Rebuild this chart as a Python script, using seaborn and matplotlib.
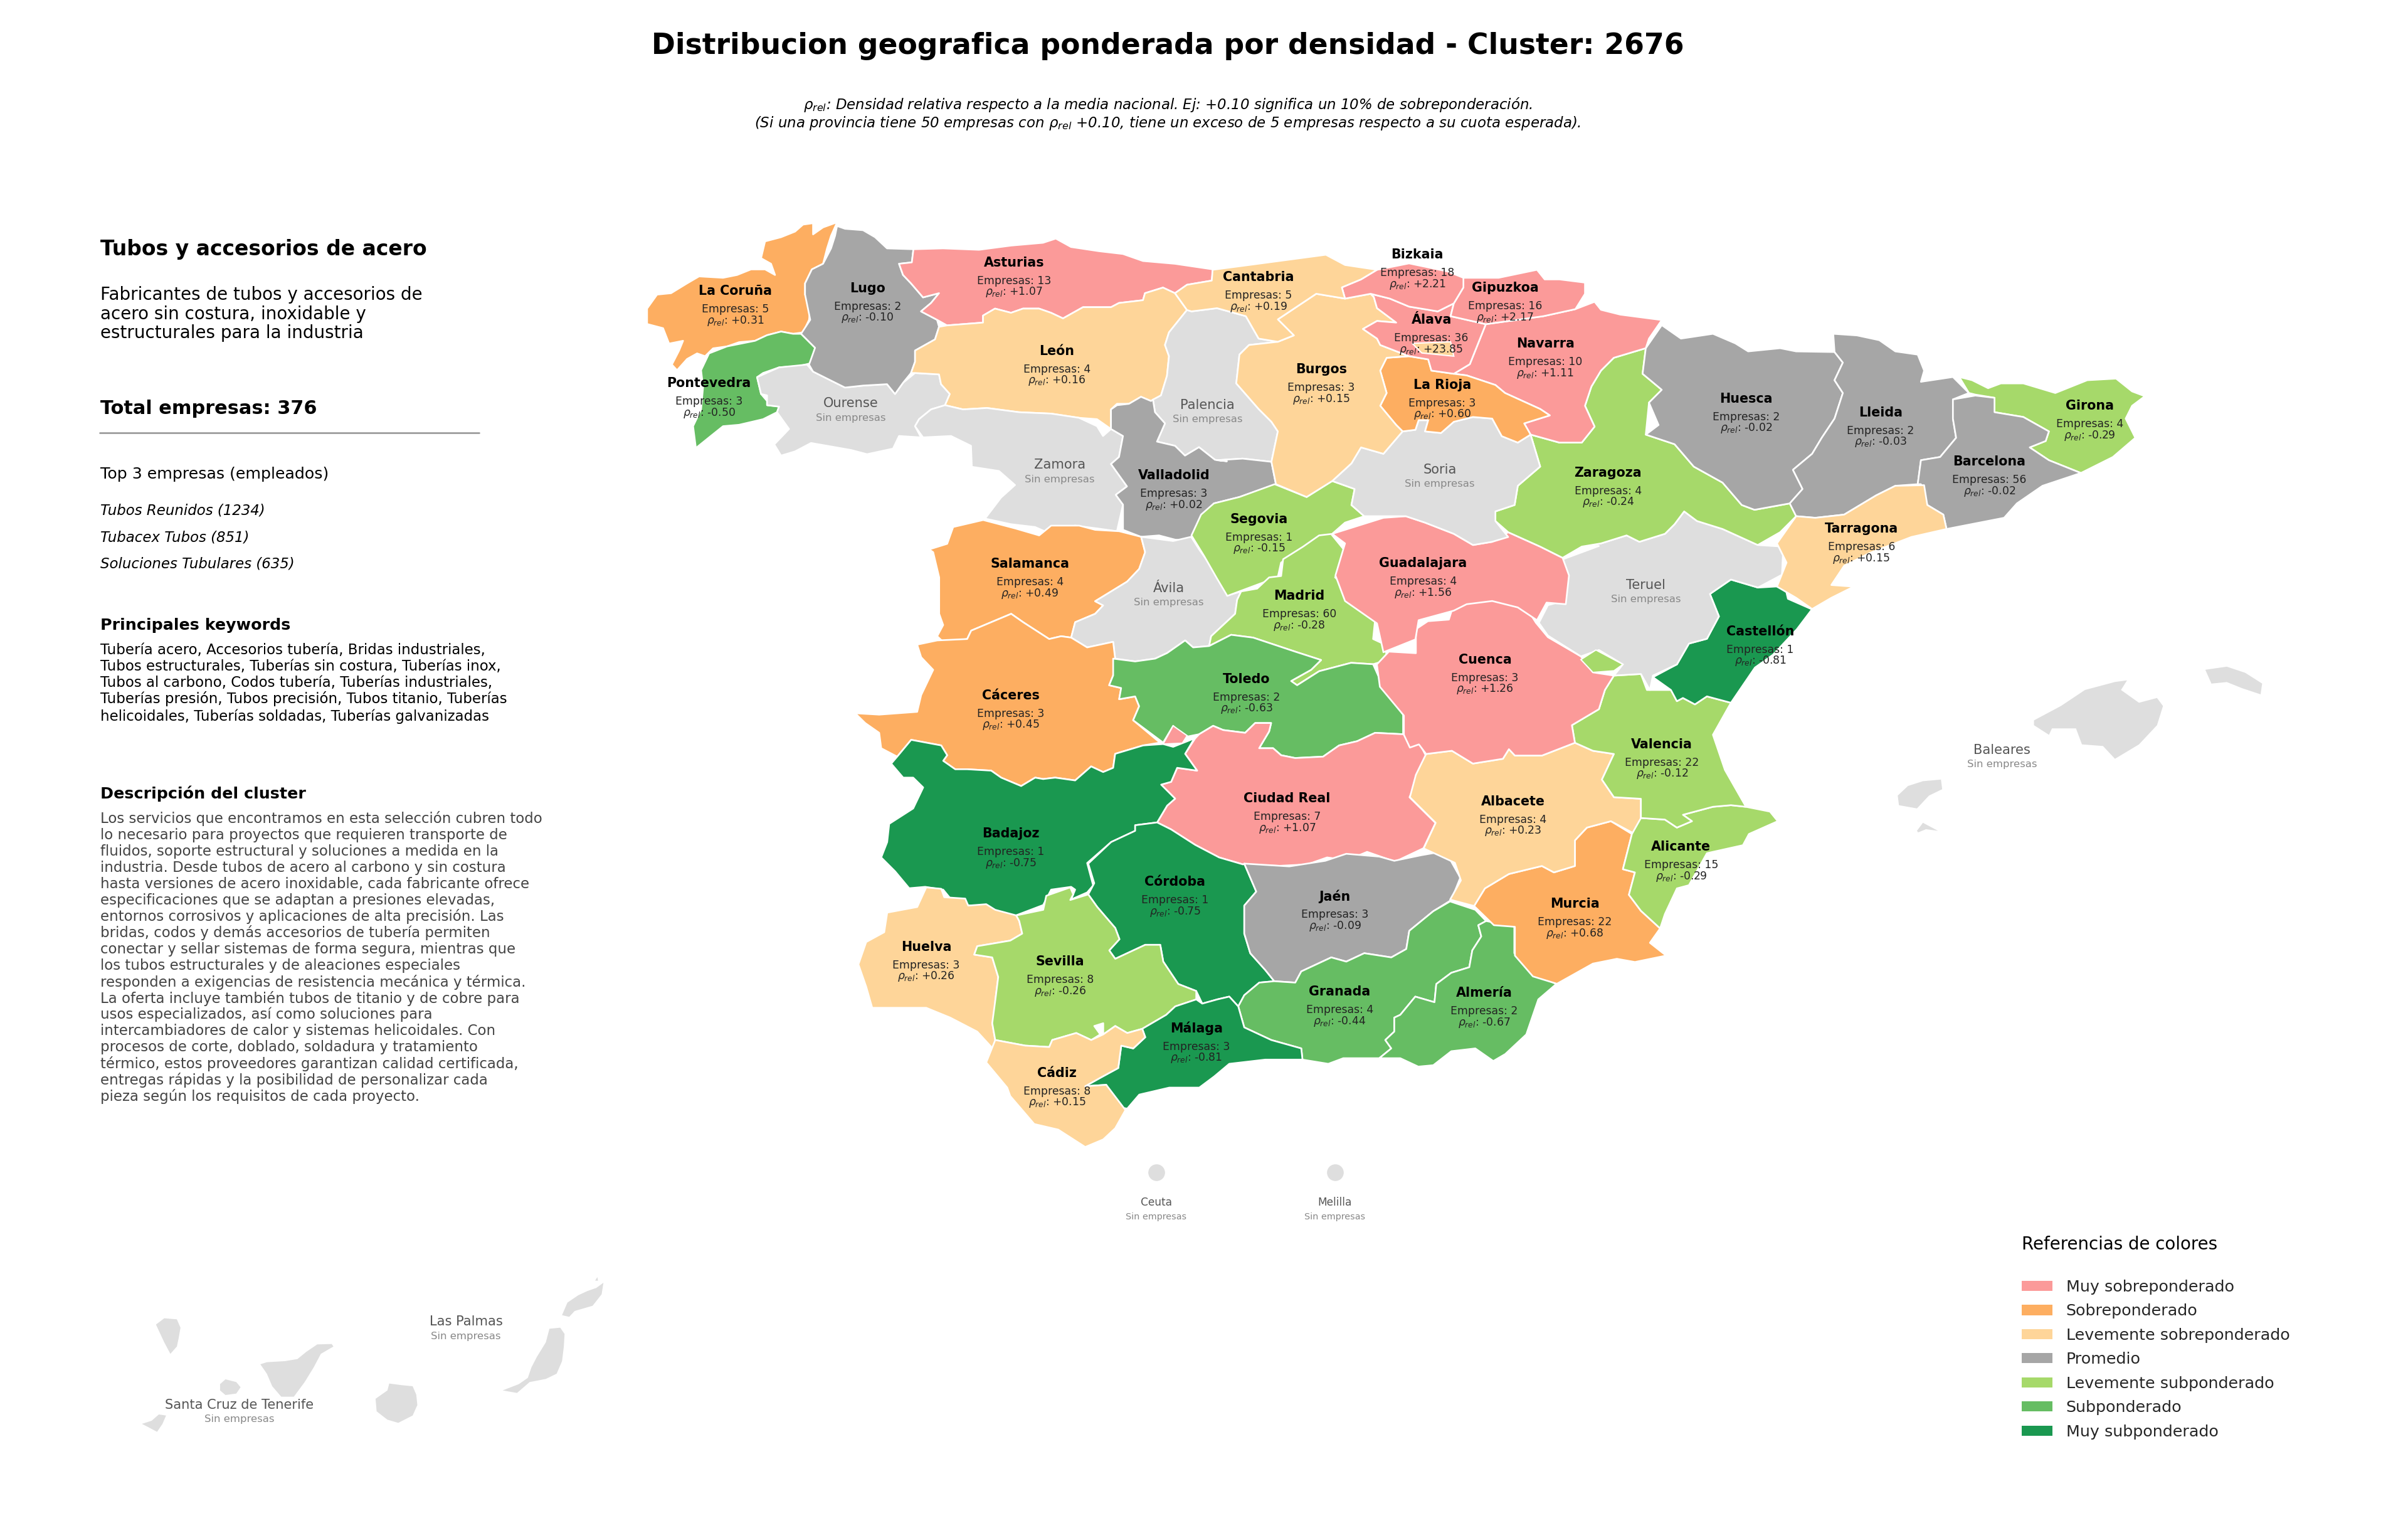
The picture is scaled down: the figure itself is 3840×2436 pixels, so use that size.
import matplotlib
matplotlib.use("Agg")
import matplotlib.pyplot as plt
from matplotlib.patches import Polygon, Patch
import pandas as pd
import seaborn as sns

W, H = 3840, 2436
DPI = 240

# ---------- data ----------
PROVINCES = ["La Coruña","Lugo","Asturias","León","Pontevedra","Valladolid","Salamanca","Segovia","Madrid","Cáceres","Toledo",
             "Badajoz","Ciudad Real","Córdoba","Jaén","Huelva","Sevilla","Cádiz","Málaga","Granada","Almería","Murcia","Alicante",
             "Albacete","Valencia","Cuenca","Guadalajara","Castellón","Tarragona","Barcelona","Girona","Lleida","Huesca","Zaragoza",
             "Navarra","La Rioja","Burgos","Álava","Gipuzkoa","Bizkaia","Cantabria"]
EMPRESAS = [5,2,13,4,3,3,4,1,60,3,2,1,7,1,3,3,8,8,3,4,2,22,15,4,22,3,4,1,6,56,4,2,2,4,10,3,3,36,16,18,5]
RHO = [0.31,-0.10,1.07,0.16,-0.50,0.02,0.49,-0.15,-0.28,0.45,-0.63,-0.75,1.07,-0.75,-0.09,0.26,-0.26,0.15,-0.81,-0.44,-0.67,0.68,-0.29,
       0.23,-0.12,1.26,1.56,-0.81,0.15,-0.02,-0.29,-0.03,-0.02,-0.24,1.11,0.60,0.15,23.85,2.17,2.21,0.19]
EMPTY_PROVINCES = ["Ourense","Zamora","Palencia","Ávila","Soria","Teruel","Baleares","Ceuta","Melilla","Las Palmas","Santa Cruz de Tenerife"]

CATEGORIES = ["Muy sobreponderado","Sobreponderado","Levemente sobreponderado","Promedio","Levemente subponderado","Subponderado","Muy subponderado"]
COLORS = ["#fb9a99","#fdae61","#fed599","#a6a6a6","#a6d96a","#66bd63","#1a9850"]
EMPTY_COLOR = "#dedede"
BIN_EDGES = [-1000,-0.7,-0.35,-0.11,0.10,0.30,0.75,1000]

TITLE = "Distribucion geografica ponderada por densidad - Cluster: 2676"
NOTE_1 = r"$\rho_{rel}$: Densidad relativa respecto a la media nacional. Ej: +0.10 significa un 10% de sobreponderación."
NOTE_2 = r"(Si una provincia tiene 50 empresas con $\rho_{rel}$ +0.10, tiene un exceso de 5 empresas respecto a su cuota esperada)."
HEAD = "Tubos y accesorios de acero"
SUBHEAD = ["Fabricantes de tubos y accesorios de","acero sin costura, inoxidable y","estructurales para la industria"]
TOTAL = "Total empresas: 376"
TOP_TITLE = "Top 3 empresas (empleados)"
TOP_COMPANIES = ["Tubos Reunidos (1234)","Tubacex Tubos (851)","Soluciones Tubulares (635)"]
KW_TITLE = "Principales keywords"
KEYWORDS = ["Tubería acero, Accesorios tubería, Bridas industriales,","Tubos estructurales, Tuberías sin costura, Tuberías inox,",
            "Tubos al carbono, Codos tubería, Tuberías industriales,","Tuberías presión, Tubos precisión, Tubos titanio, Tuberías",
            "helicoidales, Tuberías soldadas, Tuberías galvanizadas"]
DESC_TITLE = "Descripción del cluster"
DESCRIPTION = ["Los servicios que encontramos en esta selección cubren todo","lo necesario para proyectos que requieren transporte de",
 "fluidos, soporte estructural y soluciones a medida en la","industria. Desde tubos de acero al carbono y sin costura",
 "hasta versiones de acero inoxidable, cada fabricante ofrece","especificaciones que se adaptan a presiones elevadas,",
 "entornos corrosivos y aplicaciones de alta precisión. Las","bridas, codos y demás accesorios de tubería permiten",
 "conectar y sellar sistemas de forma segura, mientras que","los tubos estructurales y de aleaciones especiales",
 "responden a exigencias de resistencia mecánica y térmica.","La oferta incluye también tubos de titanio y de cobre para",
 "usos especializados, así como soluciones para","intercambiadores de calor y sistemas helicoidales. Con",
 "procesos de corte, doblado, soldadura y tratamiento","térmico, estos proveedores garantizan calidad certificada,",
 "entregas rápidas y la posibilidad de personalizar cada","pieza según los requisitos de cada proyecto."]
LEGEND_TITLE = "Referencias de colores"

# map survey frames: origin x, origin y, x scale, y scale
FRAMES = {"A":(1000,300,1.568,2.24),"B":(1900,300,0.98,1.96),"C":(1300,800,1.568,2.24),"D":(2100,850,1.045,1.96),
          "E":(1300,1350,1.045,2.24),"F":(150,2000,1.742,3.0),"O":(0,0,1/2.449,1/2.449)}

OUTLINES = {
"La Coruña":[("A",[(525,122),(510,170),(500,215),(490,270),(462,290),(445,340),(445,380),(458,430),(455,470),(440,515),(415,520),(385,512),(350,525),(320,545),(280,550),(250,565),(215,572),(195,600),(175,590),(150,610),(125,650),(112,630),(130,580),(140,545),(105,555),(90,500),(50,485),(50,430),(75,380),(110,375),(150,340),(180,315),(240,320),(275,310),(310,290),(345,290),(370,310),(360,270),(335,250),(345,190),(385,175),(420,155),(440,130),(465,125),(465,165),(490,140)])],
"Pontevedra":[("A",[(435,520),(470,570),(460,625),(430,635),(380,640),(340,660),(325,675),(335,735),(350,760),(350,775),(380,780),(375,800),(340,825),(280,845),(240,850),(205,890),(172,928),(165,850),(185,790),(190,710),(185,650),(205,590),(250,565),(320,545),(350,525),(385,512),(415,520)])],
"Ourense":[("A",[(325,675),(380,640),(450,630),(465,655),(500,680),(545,712),(590,705),(650,700),(670,735),(690,695),(720,660),(780,665),(785,700),(807,735),(795,775),(760,790),(730,825),(720,850),(735,890),(680,885),(665,930),(600,950),(560,935),(500,920),(460,910),(420,940),(385,955),(368,915),(405,860),(375,800),(380,780),(350,775),(350,740),(335,735)])],
"Lugo":[("A",[(525,135),(545,145),(590,150),(620,175),(650,215),(716,218),(712,265),(680,270),(690,310),(710,340),(740,390),(780,375),(760,410),(735,440),(775,470),(780,495),(770,540),(720,580),(720,620),(710,660),(690,695),(670,735),(650,700),(590,705),(545,712),(500,680),(465,655),(455,630),(470,570),(435,520),(458,470),(445,380),(445,340),(462,290),(490,270),(510,215),(520,170)])],
"Asturias":[("A",[(716,218),(790,215),(880,220),(960,205),(1040,195),(1072,180),(1110,210),(1180,225),(1240,235),(1290,260),(1370,270),(1465,290),(1462,330),(1400,345),(1370,375),(1340,355),(1295,375),(1290,400),(1230,410),(1210,425),(1140,425),(1090,465),(1060,445),(1030,430),(990,430),(960,445),(920,430),(890,455),(890,480),(800,490),(775,470),(735,440),(760,410),(780,375),(740,390),(710,340),(690,310),(680,270),(712,265)])],
"León":[("A",[(800,490),(890,480),(890,455),(920,430),(960,445),(990,430),(1030,430),(1060,445),(1090,465),(1140,425),(1210,425),(1230,410),(1290,400),(1295,375),(1340,355),(1370,375),(1400,435),(1355,515),(1345,560),(1355,600),(1350,670),(1335,740),(1310,760),(1285,745),(1255,770),(1225,770),(1210,790),(1210,860),(1175,825),(1130,820),(1060,805),(980,800),(900,785),(840,790),(795,775),(807,735),(785,700),(780,665),(720,660),(710,660),(720,620),(720,580),(770,540),(780,495)])],
"Zamora":[("A",[(795,775),(840,790),(900,785),(980,800),(1060,805),(1130,820),(1175,850),(1190,885),(1210,860),(1240,885),(1230,960),(1210,985),(1250,1065),(1222,1095),(1240,1130),(1225,1225),(1175,1215),(1120,1205),(1060,1235),(1020,1210),(960,1200),(895,1180),(935,1105),(970,1060),(930,1010),(862,995),(860,920),(810,885),(740,890),(720,850),(730,825),(760,790)])],
"Palencia":[("A",[(1400,435),(1355,515),(1345,560),(1355,600),(1350,670),(1335,740),(1315,755),(1320,800),(1345,840),(1325,905),(1370,920),(1395,955),(1430,925),(1470,970),(1500,975)]),("B",[(40,850),(80,845),(125,855),(135,760),(125,730),(105,690),(70,610),(75,520),(90,490),(135,480),(105,470),(85,400),(40,375),(0,385)])],
"Valladolid":[("A",[(1285,745),(1310,760),(1315,755),(1320,800),(1345,840),(1325,905),(1370,920),(1395,955),(1430,925),(1470,970),(1500,975)]),("B",[(40,850),(80,845),(125,855),(132,925),(75,965),(35,985)]),("A",[(1470,1130),(1480,1165),(1430,1210),(1410,1260),(1370,1255),(1330,1240),(1285,1245),(1240,1220),(1240,1130),(1222,1095),(1250,1065),(1210,985),(1230,960),(1240,885),(1210,860),(1210,790),(1225,775),(1255,770)])],
"Salamanca":[("C",[(420,65),(500,95),(560,120),(590,85),(660,85),(700,100),(760,105),(815,125),(825,180),(810,240),(780,285),(700,355),(720,370),(700,400),(650,430),(640,485),(615,480),(585,490),(520,430),(490,400),(440,430),(390,460),(380,490),(320,500),(305,480),(320,440),(310,400),(310,270),(295,180),(285,170),(330,150),(345,90)])],
"Ávila":[("C",[(815,125),(895,140),(940,125),(960,170),(1000,250),(1025,290),(1030,335),(1065,320),(1055,350),(1050,400),(990,480),(985,515),(945,520),(925,495),(880,540),(850,560),(800,570),(750,560),(745,500),(680,520),(640,485),(650,430),(700,400),(720,370),(700,355),(780,285),(810,240),(825,180)])],
"Segovia":[("B",[(130,925),(180,965),(220,915),(255,940),(250,990),(270,1025),(240,1045),(220,1080),(170,1130),(140,1170),(135,1215),(56,1274),(40,1220),(20,1150),(0,1085),(15,1020),(35,985),(75,965)])],
"Madrid":[("C",[(1290,115),(1330,185),(1300,270),(1340,320),(1400,420),(1395,490),(1425,510),(1430,565),(1395,580),(1340,575),(1260,605),(1205,655),(1190,640),(1240,600),(1265,565),(1200,535),(1095,485),(1040,475),(985,515),(990,480),(1050,400),(1055,350),(1065,320),(1105,310),(1135,270),(1165,265),(1170,205),(1220,160),(1260,120)])],
"Cáceres":[("C",[(490,400),(520,430),(585,490),(615,480),(640,485),(680,520),(745,500),(750,560),(745,620),(735,655),(765,665),(760,705),(800,695),(810,730),(795,780),(862,860),(820,870),(750,900),(745,950),(720,965),(690,945),(650,995),(600,985),(570,990),(550,985),(515,1015),(465,985),(440,960),(380,955),(350,955),(320,925),(330,905),(315,870),(240,850),(205,910),(165,880),(160,825),(125,790),(100,755),(160,760),(255,750),(265,690),(295,600),(265,555),(255,510),(305,495),(380,490),(390,460),(440,430)])],
"Toledo":[("C",[(745,560),(800,570),(850,560),(880,540),(925,495),(945,520),(985,515),(1040,475),(1095,485),(1200,535),(1265,565),(1240,600),(1190,640),(1205,655),(1260,605),(1340,575),(1395,580),(1420,660),(1470,760),(1470,830),(1400,825),(1355,855),(1310,870),(1270,910),(1200,915),(1165,905),(1145,880),(1110,880),(1135,820),(1140,790),(1100,790),(1075,825),(1020,815),(995,800),(960,830),(925,840),(895,800),(870,860),(795,780),(810,730),(800,695),(760,705),(765,665),(735,655),(745,620)])],
"Ciudad Real":[("C",[(950,845),(925,900),(955,960),(905,950),(890,1000),(865,1010),(900,1060),(880,1085),(855,1145),(890,1170),(950,1225),(1010,1270),(1070,1295),(1160,1300),(1230,1295),(1280,1270),(1330,1280),(1380,1250),(1450,1285),(1521,1237),(1551,1147),(1486,1055),(1530,915),(1510,860),(1470,830),(1400,825),(1355,855),(1310,870),(1270,910),(1200,915),(1165,905),(1145,880),(1110,880),(1135,820),(1140,790),(1100,790),(1075,825),(1020,815),(995,800),(960,830)])],
"Badajoz":[("C",[(240,850),(315,870),(330,905),(320,925),(350,955),(380,955),(440,960),(465,985),(515,1015),(550,985),(570,990),(600,985),(650,995),(690,945),(720,965),(745,950),(750,900),(820,870),(870,865),(895,875),(948,845),(925,900),(955,960),(905,950),(890,1000),(865,1010),(900,1060),(880,1085),(855,1145),(800,1155),(800,1175),(740,1215),(680,1290),(695,1370),(680,1395),(640,1420),(650,1385),(640,1375),(590,1385),(570,1440),(500,1478),(420,1450),(380,1440),(340,1420),(320,1385),(275,1375),(235,1380),(200,1320),(165,1270),(180,1215),(185,1150),(245,1095),(270,1020),(245,985),(220,985),(190,935),(205,910)])],
"Córdoba":[("C",[(800,1155),(855,1145),(890,1170),(950,1225),(1010,1270),(1070,1295)]),("E",[(715,60),(720,85),(735,160),(715,210),(715,310),(725,380),(750,440),(765,480),(740,485),(715,530),(705,570),(690,535),(670,545),(645,560),(635,515),(605,490),(580,410),(575,350),(550,350),(500,400),(490,370),(507,330),(500,290),(470,215),(455,170),(465,130),(455,60)]),("C",[(740,1215),(800,1175)])],
"Jaén":[("E",[(715,60),(790,70),(850,50),(885,25),(940,35),(965,50),(1010,30),(1050,15),(1075,110),(1060,190),(1030,230),(990,300),(985,365),(960,395),(915,380),(885,410),(860,395),(810,445),(800,485),(765,480),(750,440),(725,380),(715,310),(715,210),(735,160),(720,85)])],
"Granada":[("E",[(765,480),(800,485),(810,445),(860,395),(885,410),(915,380),(960,395),(985,365),(990,300),(1030,230),(1058,195),(1100,225),(1118,265),(1105,280),(1110,320),(1095,370),(1090,430),(1060,450),(1035,490),(1032,555),(1000,535),(975,600),(965,610),(965,660),(950,690),(960,720),(940,755),(880,755),(855,775),(812,760),(810,720),(760,690),(715,645),(705,570),(715,530),(740,485)])],
"Almería":[("E",[(1118,265),(1165,285),(1165,380),(1205,460),(1235,490),(1205,545),(1185,670),(1150,740),(1130,765),(1100,720),(1060,730),(1030,780),(1005,785),(975,755),(940,755),(960,720),(950,690),(965,660),(965,610),(975,600),(1000,535),(1032,555),(1035,490),(1060,450),(1090,430),(1095,370),(1110,320),(1105,280)])],
"Huelva":[("E",[(185,145),(210,150),(215,180),(250,185),(255,210),(285,205),(300,225),(335,245),(340,265),(345,310),(325,335),(270,355),(265,385),(295,395),(305,465),(300,550),(300,600),(295,630),(300,690),(300,730),(270,660),(225,610),(185,575),(95,575),(85,500),(72,420),(85,340),(115,305),(120,235),(170,215)])],
"Sevilla":[("E",[(335,245),(380,225),(385,175),(425,145),(430,170),(425,190),(455,170),(470,215),(500,290),(507,330),(490,370),(500,400),(550,350),(575,350),(580,410),(605,490),(635,515),(635,545),(600,570),(585,600),(545,650),(520,665),(500,640),(480,670),(480,630),(465,640),(475,670),(460,690),(435,665),(395,690),(390,715),(350,710),(300,690),(295,630),(300,550),(305,465),(295,395),(265,385),(270,355),(325,335),(345,310),(340,265)])],
"Málaga":[("E",[(635,545),(645,560),(670,545),(690,535),(705,570),(715,645),(760,690),(810,720),(812,760),(750,760),(690,775),(665,820),(640,860),(590,860),(540,885),(520,935),(505,930),(485,850),(450,855),(475,825),(505,790),(510,710),(530,720),(550,680),(545,650),(585,600),(600,570)])],
"Cádiz":[("E",[(300,690),(350,710),(390,715),(395,690),(435,665),(460,690),(480,670),(500,640),(520,665),(545,650),(550,680),(530,720),(510,710),(505,790),(475,825),(450,855),(485,850),(517,940),(500,1005),(480,1045),(450,1072),(405,1010),(365,990),(325,890),(320,860),(285,770)])],
"Murcia":[("D",[(490,900),(525,940),(510,1050),(530,1060),(520,1130),(540,1180),(572,1235),(555,1280),(582,1320),(530,1340),(500,1330),(460,1345),(400,1408),(360,1385),(330,1320),(330,1230),(295,1225),(262,1165),(280,1110),(320,1065),(375,1040),(395,1060),(430,1040),(430,960),(450,920)])],
"Albacete":[("D",[(182,690),(225,680),(260,720),(310,705),(320,675),(330,695),(375,695),(430,655),(460,680),(495,690),(475,770),(495,825),(540,830),(540,890),(540,935),(525,935),(490,900),(450,920),(430,960),(430,1040),(395,1060),(375,1040),(320,1065),(280,1110),(262,1165),(222,1145),(240,1085),(230,1030),(178,985),(198,905),(155,825),(165,755)])],
"Alicante":[("D",[(715,855),(755,870),(768,900),(720,940),(710,975),(650,1000),(620,1100),(600,1110),(580,1190),(572,1235),(540,1180),(520,1130),(530,1060),(510,1050),(525,940),(540,890),(580,895),(600,920),(625,900),(610,880),(660,855),(690,850)])],
"Valencia":[("D",[(495,445),(540,440),(550,490),(590,490),(600,525),(610,515),(630,535),(650,510),(690,530),(660,630),(680,740),(715,855),(690,850),(660,855),(610,880),(625,900),(600,920),(580,895),(540,890),(540,830),(495,825),(475,770),(495,690),(460,680),(430,655),(425,600),(470,550),(480,490)])],
"Cuenca":[("D",[(300,190),(345,220),(365,280),(385,325),(440,385),(460,435),(495,445),(480,490),(470,550),(425,600),(430,655),(375,695),(330,695),(320,675),(310,705),(260,720),(225,680),(182,690),(170,660),(155,670),(145,630),(145,570),(105,480),(100,410),(120,370),(165,375),(165,300),(185,275),(220,270),(225,240),(270,200)])],
"Castellón":[("D",[(690,145),(735,170),(780,165),(785,205),(825,238),(800,300),(760,380),(730,420),(690,530),(650,510),(630,535),(610,515),(600,525),(590,490),(560,450),(600,410),(620,345),(650,330),(670,260),(655,190)])],
"Teruel":[("B",[(610,1120),(640,1110),(680,1085),(700,1105),(740,1080),(755,1050),(770,1010),(790,1040),(830,1065),(885,1115),(925,1120)]),("D",[(775,130),(735,170),(690,145),(655,190),(670,260),(650,330),(620,345),(600,410),(560,445),(555,490),(540,440),(495,445),(510,410),(470,365),(440,385),(385,320),(370,280),(385,225),(415,210),(415,130),(405,85),(470,40)])],
"Guadalajara":[("B",[(220,1080),(300,1030),(335,1025),(365,1045),(410,1080),(440,1115),(470,1105),(495,1075),(545,1120),(580,1155),(590,1210),(585,1300),(555,1295),(540,1350),(510,1310),(470,1290),(430,1300),(410,1320),(355,1350),(350,1410),(300,1450),(290,1360),(240,1290),(225,1210),(240,1110)])],
"Zaragoza":[("B",[(710,500),(705,580),(735,630),(715,670),(710,770),(755,800),(785,870),(830,920),(860,990),(880,1005),(935,985),(945,1025),(920,1075),(885,1115),(830,1065),(790,1040),(770,1010),(755,1050),(740,1080),(700,1105),(680,1085),(640,1110),(610,1120),(580,1155),(545,1120),(495,1075),(475,1040),(475,1010),(505,990),(510,930),(545,870),(530,770),(575,795),(610,795),(630,745),(615,680),(625,620),(640,570),(660,530)])],
"Huesca":[("B",[(735,428),(765,470),(815,455),(850,485),(870,510),(920,500),(945,510),(1005,512),(1018,545),(1005,600),(1018,640),(1005,720),(985,780),(970,830),(940,880),(955,940),(935,985),(880,1005),(860,990),(830,920),(785,870),(755,800),(710,770),(730,740),(715,670),(735,630),(705,580),(710,500)])],
"Lleida":[("B",[(1003,455),(1040,460),(1075,475),(1100,510),(1135,520),(1145,570),(1140,605),(1190,590),(1215,640),(1190,660),(1190,720),(1195,780),(1170,840),(1140,850),(1135,925),(1100,930),(1070,960),(1020,1020),(975,1030),(945,1025),(935,985),(955,940),(940,880),(970,830),(985,780),(1005,720),(1018,640),(1005,600),(1018,545),(1005,512)])],
"Girona":[("B",[(1200,590),(1220,600),(1245,625),(1265,610),(1300,610),(1350,640),(1375,620),(1400,600),(1445,595),(1470,635),(1490,650),(1470,680),(1460,720),(1475,780),(1440,840),(1390,890),(1340,850),(1310,810),(1335,790),(1340,760),(1300,715),(1255,700),(1255,655),(1225,645),(1215,640)])],
"Barcelona":[("B",[(1190,660),(1225,648),(1255,655),(1255,700),(1300,715),(1340,760),(1335,790),(1310,810),(1340,850),(1390,890),(1330,930),(1290,985),(1270,1030),(1180,1065),(1175,1020),(1150,990),(1140,925),(1135,925),(1140,850),(1170,840),(1195,780),(1190,720)])],
"Tarragona":[("B",[(1100,930),(1145,928),(1150,990),(1175,1020),(1180,1065),(1125,1090),(1060,1140),(1020,1180),(1000,1240),(1035,1245),(1000,1280),(970,1315),(945,1280),(915,1245),(930,1170),(915,1110),(945,1025),(975,1030),(1020,1020),(1070,960)])],
"Soria":[("B",[(330,760),(350,755),(355,725),(370,725),(365,760),(390,765),(410,730),(440,715),(470,720),(485,775),(510,795),(530,770),(545,870),(510,930),(505,990),(475,1010),(475,1040),(495,1090),(470,1105),(440,1115),(410,1080),(365,1045),(335,1025),(270,1025),(250,990),(255,940),(220,915),(250,860),(265,810),(300,830)])],
"Navarra":[("B",[(600,378),(630,355),(640,380),(670,395),(735,412),(715,470),(710,500),(660,530),(640,570),(625,620),(615,680),(630,745),(610,795),(575,795),(530,770),(520,735),(560,710),(545,690),(490,640),(475,615),(430,585),(410,580),(435,550),(445,500),(460,425),(550,400)])],
"La Rioja":[("B",[(305,530),(340,525),(370,535),(375,570),(410,580),(430,585),(475,615),(490,640),(545,690),(560,710),(520,735),(530,770),(510,795),(485,775),(470,720),(440,715),(410,730),(390,765),(365,760),(370,725),(355,725),(350,755),(330,760),(320,740),(295,680),(305,640),(295,570)])],
"Burgos":[("B",[(195,330),(240,345),(280,330),(285,340),(290,375),(320,420),(290,415),(268,440),(290,470),(295,490),(340,525),(305,530),(295,570),(305,640),(295,680),(320,740),(330,760),(300,830),(265,810),(250,860),(220,915),(180,965),(132,925),(125,855),(135,760),(125,730),(105,690),(70,610),(75,520),(90,490),(135,480),(160,460),(135,410),(180,350)])],
"Álava":[("B",[(280,330),(310,345),(340,370),(385,385),(410,360),(405,400),(460,425),(445,500),(435,550),(410,580),(375,570),(370,535),(340,525),(295,490),(290,470),(268,440),(290,415),(320,420),(290,375),(285,340)])],
"Gipuzkoa":[("B",[(425,280),(480,280),(540,255),(552,285),(575,285),(615,295),(615,330),(600,378),(550,400),(460,425),(405,400),(410,360),(425,310)])],
"Bizkaia":[("B",[(290,255),(340,235),(400,260),(425,280),(425,310),(410,360),(385,385),(340,370),(310,345),(280,330),(240,345),(235,310),(265,285)])],
"Cantabria":[("B",[(33,255),(90,240),(165,220),(210,208),(240,240),(290,255),(265,285),(235,310),(240,345),(195,330),(180,350),(135,410),(160,460),(135,480),(105,470),(85,400),(40,375),(0,385)]),("A",[(1400,435),(1370,375),(1400,345),(1462,330)])],
}
# enclaves drawn in the colour of their province: province, frame, outline
ENCLAVES = [("Burgos","B",[(345,485),(405,480),(410,525),(360,515)]),
            ("Ciudad Real","C",[(870,865),(895,800),(930,835),(918,862)]),
            ("Valencia","D",[(465,365),(510,410),(495,430),(460,435),(440,395)])]
ISLANDS = {"Mallorca":("D",[(1195,585),(1240,540),(1280,490),(1330,465),(1350,460),(1340,490),(1370,530),(1400,515),(1410,540),(1400,600),(1370,660),(1330,705),(1310,665),(1275,660),(1265,610),(1225,610),(1220,630),(1195,600)]),
 "Menorca":("O",[(1436,436),(1450,434),(1462,438),(1473,445),(1472,452),(1460,448),(1450,444),(1440,445)]),
 "Ibiza":("D",[(985,790),(1010,775),(1040,770),(1042,800),(1020,820),(1000,860),(970,850),(968,820)]),
 "Formentera":("D",[(1000,930),(1010,905),(1035,930),(1015,925),(1002,935)]),
 "La Palma":("F",[(172,335),(195,305),(230,310),(240,350),(235,400),(230,440),(212,475),(195,420)]),
 "La Gomera":("F",[(350,620),(365,597),(395,610),(407,635),(395,665),(365,672),(350,650)]),
 "Tenerife":("F",[(462,525),(480,515),(530,510),(565,500),(590,465),(620,430),(660,428),(665,440),(630,475),(610,540),(585,610),(555,680),(520,680),(495,630),(480,570)]),
 "El Hierro":("F",[(133,810),(160,795),(180,765),(200,770),(190,810),(175,848),(150,825)]),
 "Gran Canaria":("F",[(782,690),(815,650),(820,617),(855,625),(885,630),(895,670),(898,720),(885,770),(845,805),(815,790),(785,750)]),
 "Fuerteventura":("F",[(1135,650),(1180,620),(1205,590),(1215,540),(1230,490),(1255,420),(1265,355),(1295,350),(1307,380),(1305,440),(1300,510),(1285,570),(1255,595),(1210,610),(1175,662)]),
 "Lanzarote":("F",[(1300,290),(1315,230),(1345,195),(1370,175),(1395,160),(1415,135),(1410,190),(1385,245),(1335,270),(1320,298)]),
 "La Graciosa":("F",[(1392,125),(1398,108),(1400,125)])}
LABEL_POS = {"La Coruña":("A",271,368),"Lugo":("A",601,358),"Asturias":("A",967,266),"León":("A",1075,582),"Pontevedra":("A",205,697),
 "Ourense":("A",559,769),"Zamora":("A",1082,988),"Palencia":("A",1451,775),"Valladolid":("A",1367,1026),"Salamanca":("A",1007,1342),
 "Ávila":("C",884,308),"Segovia":("C",1110,62),"Madrid":("C",1210,337),"Cáceres":("C",489,692),"Toledo":("C",1078,633),"Badajoz":("C",489,1186),
 "Ciudad Real":("C",1180,1060),"Córdoba":("C",900,1358),"Jaén":("E",866,178),"Huelva":("E",185,358),"Sevilla":("E",408,410),"Cádiz":("E",403,808),
 "Málaga":("E",635,649),"Granada":("E",874,518),"Almería":("E",1115,522),"Murcia":("E",1266,204),"Alicante":("D",607,980),"Albacete":("D",327,838),
 "Valencia":("D",575,660),"Cuenca":("D",280,395),"Guadalajara":("B",362,1173),"Teruel":("B",710,1240),"Castellón":("B",889,1385),"Tarragona":("B",1047,1065),
 "Barcelona":("B",1247,855),"Girona":("B",1404,681),"Lleida":("B",1077,701),"Huesca":("B",867,658),"Zaragoza":("B",651,889),"Soria":("B",388,880),
 "Navarra":("B",553,487),"La Rioja":("B",392,615),"Burgos":("B",203,567),"Álava":("B",375,412),"Gipuzkoa":("B",490,312),"Bizkaia":("B",353,208),
 "Cantabria":("B",105,279),"Baleares":("D",1142,678),"Ceuta":("E",568,1271),"Melilla":("E",866,1271),"Las Palmas":("F",1033,322),"Santa Cruz de Tenerife":("F",404,720)}
CITY_NAMES = ["Ceuta","Melilla"]
CITY_FRAME_X = [568,866]
CITY_FRAME_Y = [1162,1162]

# ---------- helpers ----------
def px(frame, pts):
    ox, oy, sx, sy = FRAMES[frame]
    return [(ox + x / sx, oy + y / sy) for x, y in pts]

def ring(segments):
    out = []
    for frame, pts in segments:
        out += px(frame, pts)
    return out

# ---------- figure ----------
sns.set_theme(style="white", font="DejaVu Sans", rc={"mathtext.fontset": "dejavusans"})
palette = sns.color_palette(COLORS)
fig, ax = plt.subplots(figsize=(W / DPI, H / DPI), dpi=DPI)
fig.subplots_adjust(0, 0, 1, 1)

df = pd.DataFrame({"provincia": PROVINCES, "empresas": EMPRESAS, "rho": RHO})
df["categoria"] = pd.cut(df["rho"], BIN_EDGES, labels=CATEGORIES[::-1])
colour_of = {p: palette[CATEGORIES.index(c)] for p, c in zip(df["provincia"], df["categoria"])}

for name, segments in OUTLINES.items():
    ax.add_patch(Polygon(ring(segments), closed=True, facecolor=colour_of.get(name, EMPTY_COLOR),
                         edgecolor="white", linewidth=0.8, joinstyle="round", zorder=2))
for name, frame, pts in ENCLAVES:
    ax.add_patch(Polygon(px(frame, pts), closed=True, facecolor=colour_of[name], edgecolor="white", linewidth=0.6, zorder=3))
for name, (frame, pts) in ISLANDS.items():
    ax.add_patch(Polygon(px(frame, pts), closed=True, facecolor=EMPTY_COLOR, edgecolor="none", zorder=2))

city_xy = [px("E", [(x, y)])[0] for x, y in zip(CITY_FRAME_X, CITY_FRAME_Y)]
sns.scatterplot(x=[p[0] for p in city_xy], y=[p[1] for p in city_xy], s=64, color=EMPTY_COLOR, linewidth=0, ax=ax, legend=False, zorder=2)

# labels
for row in df.itertuples():
    f, X, Y = LABEL_POS[row.provincia]
    x, y = px(f, [(X, Y)])[0]
    ax.text(x, y, row.provincia, ha="center", va="center", fontsize=6.2, fontweight="bold", color="black", zorder=5)
    ax.text(x, y + 29, f"Empresas: {row.empresas}", ha="center", va="center", fontsize=5.2, color="#222222", zorder=5)
    ax.text(x, y + 47, rf"$\rho_{{rel}}$: {row.rho:+.2f}", ha="center", va="center", fontsize=5.2, color="#222222", zorder=5)
for name in EMPTY_PROVINCES:
    f, X, Y = LABEL_POS[name]
    x, y = px(f, [(X, Y)])[0]
    small = name in ("Ceuta", "Melilla")
    ax.text(x, y, name, ha="center", va="center", fontsize=5.1 if small else 6.3, color="#555555", zorder=5)
    ax.text(x, y + 23, "Sin empresas", ha="center", va="center", fontsize=4.3 if small else 4.95, color="#888888", zorder=5)

# header
ax.text(1862, 74, TITLE, ha="center", va="center", fontsize=13.7, fontweight="bold", color="black")
ax.text(1862, 167, NOTE_1, ha="center", va="center", fontsize=6.87, style="italic", color="black")
ax.text(1862, 197, NOTE_2, ha="center", va="center", fontsize=6.87, style="italic", color="black")

# side panel
LX = 160
ax.text(LX, 397, HEAD, va="center", fontsize=9.9, fontweight="bold", color="black")
for y, line in zip([470, 501, 531], SUBHEAD):
    ax.text(LX, y, line, va="center", fontsize=8.33, color="black")
ax.text(LX, 651, TOTAL, va="center", fontsize=9.1, fontweight="bold", color="black")
ax.plot([159, 764], [690, 690], color="#999999", lw=0.8)
ax.text(LX, 756, TOP_TITLE, va="center", fontsize=7.57, color="black")
for y, line in zip([814, 857, 899], TOP_COMPANIES):
    ax.text(LX, y, line, va="center", fontsize=6.87, style="italic", color="black")
ax.text(LX, 997, KW_TITLE, va="center", fontsize=7.6, fontweight="bold", color="black")
for y, line in zip([1037, 1063, 1089, 1114, 1142], KEYWORDS):
    ax.text(LX, y, line, va="center", fontsize=6.88, color="black")
ax.text(LX, 1265, DESC_TITLE, va="center", fontsize=7.6, fontweight="bold", color="black")
for i, line in enumerate(DESCRIPTION):
    ax.text(LX, 1305 + i * 26.06, line, va="center", fontsize=6.86, color="#444444")

# colour legend
ax.text(3224, 1984, LEGEND_TITLE, va="center", fontsize=8.3, color="black")
handles = [Patch(facecolor=c, edgecolor="none", label=l) for c, l in zip(palette, CATEGORIES)]
ax.legend(handles=handles, loc="upper left", bbox_to_anchor=(3224 / W, 1 - 2040 / H), bbox_transform=fig.transFigure,
          frameon=False, fontsize=7.6, borderaxespad=0, borderpad=0, handlelength=1.94, handleheight=0.6,
          handletextpad=0.85, labelspacing=0.57)

ax.set_xlim(0, W)
ax.set_ylim(H, 0)
ax.set_axis_off()
sns.despine(ax=ax, left=True, bottom=True)
fig.savefig("out.png", dpi=DPI, facecolor="white")
